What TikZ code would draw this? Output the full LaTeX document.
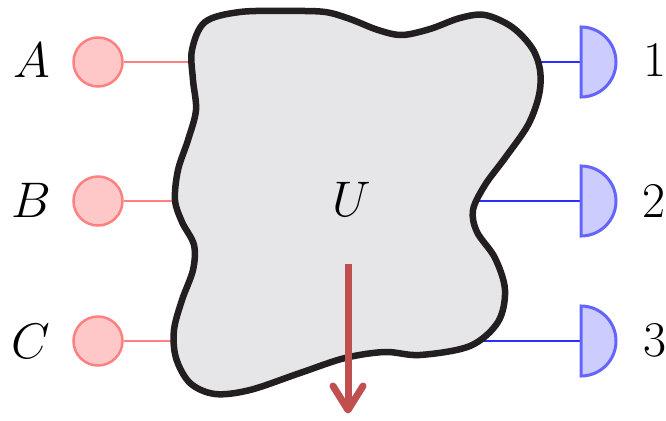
\documentclass[tikz,border=0pt]{standalone}
\usepackage{fix-cm}
\usepackage{fontspec}
\definecolor{srcfill}{RGB}{255,200,200}
\definecolor{srcline}{RGB}{255,128,128}
\definecolor{wireblue}{RGB}{45,45,255}
\definecolor{detfill}{RGB}{204,204,255}
\definecolor{detline}{RGB}{100,100,255}
\definecolor{blobfill}{RGB}{230,230,232}
\definecolor{blobline}{RGB}{35,31,32}
\definecolor{arrowred}{RGB}{192,80,80}
\begin{document}
\begin{tikzpicture}[x=1pt,y=-1pt,
  src/.style={circle, draw=srcline, fill=srcfill, line width=2.5pt, minimum size=49pt, inner sep=0pt},
  lbl/.style={font=\fontsize{50}{60}\selectfont, inner sep=0pt},
  redwire/.style={draw=srcline, line width=2pt},
  bluewire/.style={draw=wireblue, line width=2.5pt},
  det/.style={fill=detfill, draw=detline, line width=3pt},
  blob/.style={fill=blobfill, draw=blobline, line width=6.5pt, line join=round},
  outarrow/.style={draw=arrowred, line width=7pt}]
\useasboundingbox (0,0) rectangle (666,420);

% sources
\node[src] (a) at (98,62) {};
\node[src] (b) at (98,201) {};
\node[src] (c) at (98,341) {};
\node[lbl] (la) at (32,60) {$A$};
\node[lbl] (lb) at (31,200) {$B$};
\node[lbl] (lc) at (31,341) {$C$};

% blob entry/exit points
\coordinate (ia) at (200,62);
\coordinate (ib) at (185,201);
\coordinate (ic) at (183,341);
\coordinate (o1) at (530,62);
\coordinate (o2) at (474,201);
\coordinate (o3) at (475,341);

% detectors
\coordinate (d1) at (581,62);
\coordinate (d2) at (581,201);
\coordinate (d3) at (581,341);

\draw[redwire] (a) -- (ia);
\draw[redwire] (b) -- (ib);
\draw[redwire] (c) -- (ic);
\draw[bluewire] (o1) -- (d1);
\draw[bluewire] (o2) -- (d2);
\draw[bluewire] (o3) -- (d3);

\foreach \d in {d1,d2,d3}
  \draw[det] (\d) ++(0,-35) arc[start angle=-90,end angle=90,radius=35] -- cycle;

\node[lbl] (l1) at (655,60) {1};
\node[lbl] (l2) at (654,201) {2};
\node[lbl] (l3) at (655,340) {3};

% the unitary blob
\draw[blob] plot[smooth cycle, tension=0.55] coordinates {
 (205,22) (240,12) (290,11) (325,12) (350,19) (378,30) (402,35) (430,29)
 (460,18) (485,15) (512,27) (532,48) (540,70) (539,95) (528,125) (505,158)
 (485,185) (473,210) (477,232) (495,258) (505,290) (498,322) (470,346)
 (420,355) (385,352) (345,358) (300,373) (250,390) (215,394) (190,383)
 (176,358) (174,330) (182,300) (193,270) (194,245) (182,222) (175,200)
 (178,170) (188,140) (196,110) (193,80) (192,50)};

\node[lbl] (u) at (352,199) {$U$};

% output arrow
\coordinate (arrs) at (348,264);
\coordinate (arre) at (348,410);
\draw[outarrow] (arrs) -- (arre);
\draw[outarrow, line cap=round, line join=round] (333,386) -- (arre) -- (363,386);
\end{tikzpicture}
\end{document}
